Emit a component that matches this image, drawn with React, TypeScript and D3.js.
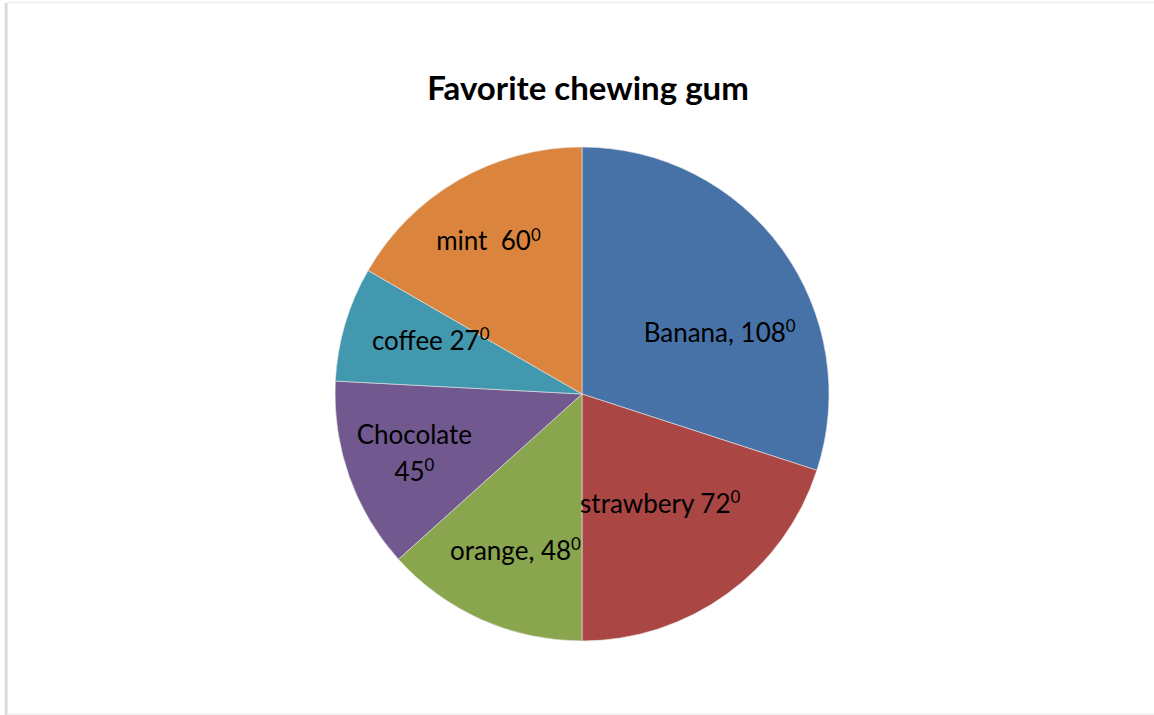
import React from "react";
import * as d3 from "d3";

const categories = ["Banana", "strawbery", "orange", "Chocolate", "coffee", "mint"];
const degrees = [108, 72, 48, 45, 27, 60];
const labelTexts = [["Banana, 108"], ["strawbery 72"], ["orange, 48"], ["Chocolate", "45"], ["coffee 27"], ["mint\u00A0\u00A060"]];
const colors = ["#4672A8", "#AA4644", "#89A54E", "#71588F", "#4298AF", "#DB843D"];
const labelRadiusFactor = [0.61, 0.545, 0.69, 0.72, 0.65, 0.725];
const labelAngleShift = [12, 0.5, -1, 0, 3, -1.5];

const W = 1154;
const H = 715;
const cx = 582;
const cy = 394;
const R = 247;
const FONT = "Lato, 'Open Sans', sans-serif";
const LABEL_SIZE = 26;

export default function App() {
  const pie = d3.pie<number>().sort(null).value((d) => d)(degrees);
  const arc = d3.arc<d3.PieArcDatum<number>>().innerRadius(0).outerRadius(R);

  return (
    <svg width={W} height={H} style={{ position: "fixed", left: 0, top: 0, background: "#fff" }}>
      <defs>
        <linearGradient id="lshadow" x1="0" x2="1" y1="0" y2="0">
          <stop offset="0" stopColor="#fff" />
          <stop offset="0.5" stopColor="#cfcfcf" />
          <stop offset="1" stopColor="#f3f3f3" />
        </linearGradient>
      </defs>
      <rect x={0} y={0} width={W} height={H} fill="#fff" />
      <rect x={4} y={3} width={4} height={H - 3} fill="url(#lshadow)" />
      <line x1={7} x2={W} y1={2.5} y2={2.5} stroke="#efefef" strokeWidth={1.5} />
      <line x1={7} x2={W} y1={714} y2={714} stroke="#eeeeee" strokeWidth={1.5} />
      <text x={588} y={100} textAnchor="middle" fontFamily={FONT} fontWeight="bold" fontSize={33} fill="#000">
        Favorite chewing gum
      </text>
      <g transform={`translate(${cx},${cy})`}>
        {pie.map((p, i) => (
          <path key={categories[i]} d={arc(p) || ""} fill={colors[i]} stroke="#e8e8e8" strokeWidth={0.6} />
        ))}
        {pie.map((p, i) => {
          const mid = (p.startAngle + p.endAngle) / 2 + (labelAngleShift[i] * Math.PI) / 180;
          const r = R * labelRadiusFactor[i];
          const x = r * Math.sin(mid);
          const y = -r * Math.cos(mid);
          const lines = labelTexts[i];
          const lh = 37;
          const y0 = y - ((lines.length - 1) * lh) / 2 + LABEL_SIZE * 0.35;
          return (
            <text key={"l" + i} textAnchor="middle" fontFamily={FONT} fontSize={LABEL_SIZE} fill="#000">
              {lines.map((ln, j) => (
                <tspan key={j} x={x} y={y0 + j * lh}>
                  {ln}
                  {j === lines.length - 1 ? (
                    <tspan fontSize={LABEL_SIZE * 0.65} dy={-LABEL_SIZE * 0.38}>
                      0
                    </tspan>
                  ) : null}
                </tspan>
              ))}
            </text>
          );
        })}
      </g>
    </svg>
  );
}
